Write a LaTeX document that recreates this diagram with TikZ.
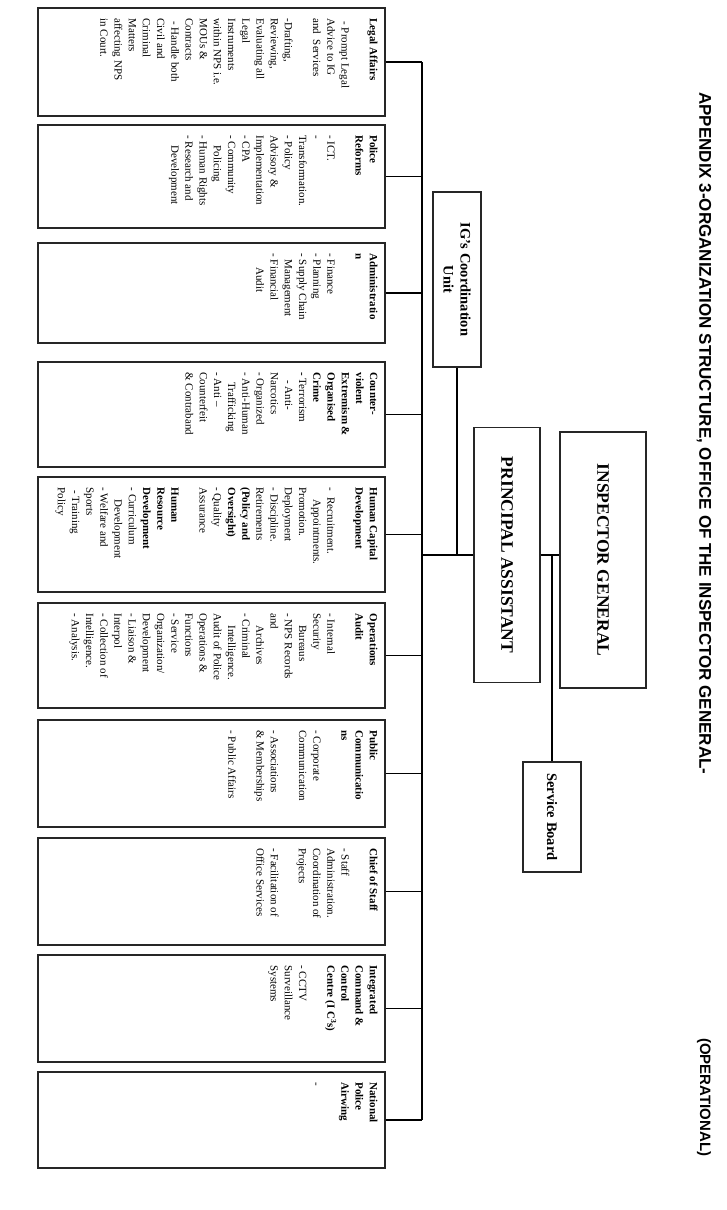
\documentclass[tikz,border=0pt]{standalone}
\usepackage{fontspec}
\setmainfont{Liberation Serif}
\newfontfamily\titlefont{Liberation Sans}
\begin{document}
\begin{tikzpicture}[x=1pt,y=-1pt,
  unitbox/.style={draw=black!85, line width=1.4pt, rectangle, inner sep=0pt, minimum width=347pt},
  bigbox/.style={draw=black!85, line width=1.4pt, rectangle, inner sep=0pt},
  conn/.style={draw=black, line width=1.2pt},
  utext/.style={rotate=-90, anchor=north west, inner sep=0pt, align=left, font=\fontsize{11}{14.2}\selectfont},
  btext/.style={rotate=-90, inner sep=0pt, align=center, font=\bfseries\fontsize{17.5}{20}\selectfont},
  mtext/.style={rotate=-90, inner sep=0pt, align=center, font=\bfseries\fontsize{14.5}{17}\selectfont},
  ttext/.style={rotate=-90, anchor=west, inner sep=0pt, font=\titlefont\bfseries\fontsize{17}{20}\selectfont}
]
\useasboundingbox (0,0) rectangle (727,1210);
\fill[white] (0,0) rectangle (727,1210);

% title
\node[ttext] (title) at (704,92) {APPENDIX 3-ORGANIZATION STRUCTURE, OFFICE OF THE INSPECTOR GENERAL-};
\node[ttext, font=\titlefont\bfseries\fontsize{15}{18}\selectfont] (oper) at (704,1038) {(OPERATIONAL)};

% top boxes
\node[bigbox, minimum width=86pt, minimum height=256pt] (ig) at (603,560) {};
\node[btext] (igt) at (ig.center) {INSPECTOR GENERAL};
\node[bigbox, minimum width=66pt, minimum height=255pt] (pa) at (507,555) {};
\node[btext] (pat) at (pa.center) {PRINCIPAL ASSISTANT};
\node[bigbox, minimum width=58pt, minimum height=110pt] (sb) at (552,817) {};
\node[mtext] (sbt) at (sb.center) {Service Board};
\node[bigbox, minimum width=48pt, minimum height=175pt] (igcu) at (457,279.5) {};
\node[mtext] (igcut) at (igcu.center) {IG’s Coordination\\Unit};

% unit boxes
\node[unitbox, minimum height=108pt] (b1) at (211.5,62) {};
\node[unitbox, minimum height=103pt] (b2) at (211.5,176.5) {};
\node[unitbox, minimum height=100pt] (b3) at (211.5,293) {};
\node[unitbox, minimum height=105pt] (b4) at (211.5,414.5) {};
\node[unitbox, minimum height=115pt] (b5) at (211.5,534.5) {};
\node[unitbox, minimum height=105pt] (b6) at (211.5,655.5) {};
\node[unitbox, minimum height=107pt] (b7) at (211.5,773.5) {};
\node[unitbox, minimum height=107pt] (b8) at (211.5,891.5) {};
\node[unitbox, minimum height=107pt] (b9) at (211.5,1008.5) {};
\node[unitbox, minimum height=96pt] (b10) at (211.5,1120) {};

\coordinate (sp) at (422,0);

% connectors
\draw[conn] (b1.east -| sp) -- (b10.east -| sp);
\foreach \b in {b1,b2,b3,b4,b5,b6,b7,b8,b9,b10}
  \draw[conn] (\b.east) -- (\b.east -| sp);
\draw[conn] (pa.west) -- (pa.west -| sp);
\draw[conn] (igcu.south) -- (igcu.south |- pa.west);
\draw[conn] (pa.east) -- (pa.east -| ig.west);
\coordinate (j) at (sb.north |- pa.east);
\draw[conn] (j) -- (sb.north);

% unit texts
\node[utext] (t1) at ([xshift=-8pt,yshift=-11pt]b1.north east) {\textbf{Legal Affairs}\\[14pt]
\hspace{3pt}- Prompt Legal\\
Advice to IG\\
and\ \ Services\\[14pt]
-Drafting,\\
Reviewing,\\
Evaluating all\\
Legal\\
Instruments\\
within NPS i.e.\\
MOUs \&\\
Contracts\\
\hspace{3pt}- Handle both\\
Civil and\\
Criminal\\
Matters\\
affecting NPS\\
in Court.};

\node[utext] (t2) at ([xshift=-8pt,yshift=-11pt]b2.north east) {\textbf{Police}\\
\textbf{Reforms}\\[14pt]
- ICT.\\
-\\
Transformation.\\
- Policy\\
Advisory \&\\
Implementation\\
- CPA\\
- Community\\
\hspace{10pt}Policing\\
- Human Rights\\
- Research and\\
\hspace{10pt}Development};

\node[utext] (t3) at ([xshift=-8pt,yshift=-11pt]b3.north east) {\textbf{Administratio}\\
\textbf{n}\\[14pt]
- Finance\\
- Planning\\
- Supply Chain\\
\hspace{6pt}Management\\
- Financial\\
\hspace{14pt}Audit};

\node[utext] (t4) at ([xshift=-8pt,yshift=-11pt]b4.north east) {\textbf{Counter-}\\
\textbf{violent}\\
\textbf{Extremism \&}\\
\textbf{Organised}\\
\textbf{Crime}\\
\textbf{-} Terrorism\\
\hspace{8pt}- Anti-\\
Narcotics\\
- Organized\\
- Anti-Human\\
\hspace{10pt}Trafficking\\
- Anti --\\
Counterfeit\\
\& Contraband};

\node[utext] (t5) at ([xshift=-8pt,yshift=-11pt]b5.north east) {\textbf{Human Capital}\\
\textbf{Development}\\[14pt]
-\hspace{6pt}Recruitment.\\
\hspace{12pt}Appointments.\\
Promotion.\\
Deployment\\
-\hspace{3pt}Discipline.\\
Retirements\\
\textbf{(Policy and}\\
\textbf{Oversight)}\\
- Quality\\
Assurance\\[14pt]
\textbf{Human}\\
\textbf{Resource}\\
\textbf{Development}\\
-\hspace{3pt}Curriculum\\
\hspace{12pt}Development\\
- Welfare and\\
Sports\\
\hspace{3pt}- Training\\
Policy};

\node[utext] (t6) at ([xshift=-8pt,yshift=-11pt]b6.north east) {\textbf{Operations}\\
\textbf{Audit}\\[14pt]
- Internal\\
Security\\
\hspace{12pt}Bureaus\\
- NPS Records\\
and\\
\hspace{12pt}Archives\\
- Criminal\\
\hspace{12pt}Intelligence.\\
Audit of Police\\
Operations \&\\
Functions\\
- Service\\
Organization/\\
Development\\
- Liaison \&\\
Interpol\\
- Collection of\\
Intelligence.\\
- Analysis.};

\node[utext] (t7) at ([xshift=-8pt,yshift=-11pt]b7.north east) {\textbf{Public}\\
\textbf{Communicatio}\\
\textbf{ns}\\[14pt]
- Corporate\\
Communication\\[14pt]
- Associations\\
\& Memberships\\[14pt]
- Public Affairs};

\node[utext] (t8) at ([xshift=-8pt,yshift=-11pt]b8.north east) {\textbf{Chief of Staff}\\[14pt]
- Staff\\
Administration.\\
Coordination of\\
Projects\\[14pt]
- Facilitation of\\
Office Services};

\node[utext] (t9) at ([xshift=-8pt,yshift=-11pt]b9.north east) {\textbf{Integrated}\\
\textbf{Command \&}\\
\textbf{Control}\\
\textbf{Centre (I C\textsuperscript{3}s)}\\[14pt]
- CCTV\\
Surveillance\\
Systems};

\node[utext] (t10) at ([xshift=-8pt,yshift=-11pt]b10.north east) {\textbf{National}\\
\textbf{Police}\\
\textbf{Airwing}\\[14pt]
-};
\end{tikzpicture}
\end{document}
